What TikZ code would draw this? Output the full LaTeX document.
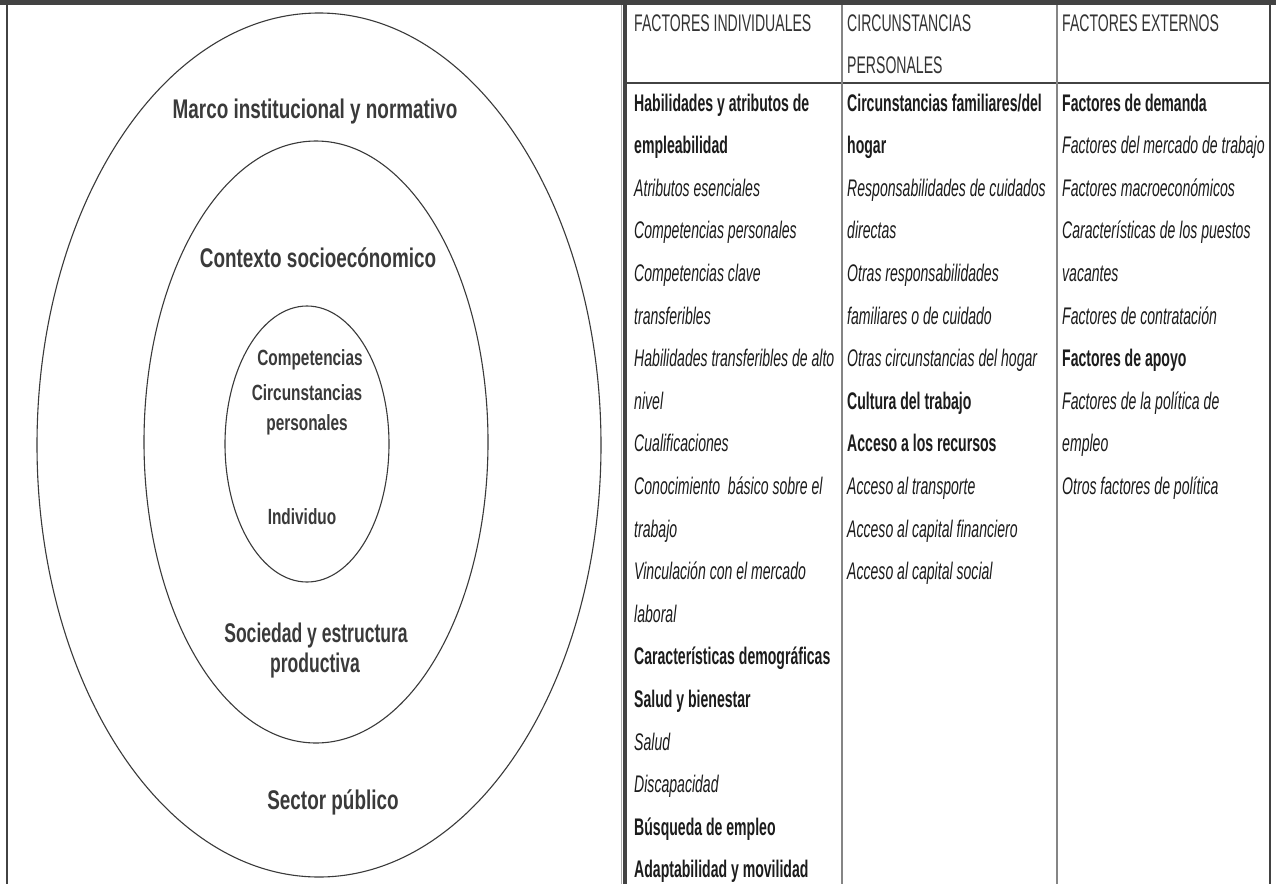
\documentclass[tikz,border=0pt]{standalone}
\usepackage{fontspec}
\setmainfont{Liberation Sans}
\newfontfamily\tabf{Liberation Sans}[FakeStretch=0.586]
\newfontfamily\circf{Liberation Sans}[FakeStretch=0.70]
\newfontfamily\circn{Liberation Sans}[FakeStretch=0.65]
\definecolor{frame}{HTML}{424242}
\definecolor{divline}{HTML}{858585}
\definecolor{txt}{HTML}{1C1C1C}
\definecolor{hdr}{HTML}{333333}
\definecolor{ctxt}{HTML}{3A3A3A}
\definecolor{ring}{HTML}{3A3A3A}
\tikzset{
  body/.style={anchor=base west, inner sep=0pt, text=txt, font=\tabf\fontsize{24}{24}\selectfont},
  bhead/.style={body, font=\tabf\bfseries\fontsize{24}{24}\selectfont},
  isub/.style={body, font=\tabf\itshape\fontsize{24}{24}\selectfont},
  colhead/.style={body, text=hdr},
  circlabel/.style={anchor=base, inner sep=0pt, text=ctxt, align=center, font=\circf\bfseries\fontsize{27}{30}\selectfont},
  narrowlabel/.style={circlabel, font=\circn\bfseries\fontsize{27}{30}\selectfont},
  innerlabel/.style={circlabel, font=\circf\bfseries\fontsize{22}{31}\selectfont},
  ringline/.style={draw=ring, line width=1.1pt},
}
\begin{document}
\begin{tikzpicture}[x=1pt,y=-1pt]
\useasboundingbox (0,0) rectangle (1276,884);
\fill[white] (0,0) rectangle (1276,884);
% frame
\fill[frame] (0,0) rectangle (1276,5);
\draw[frame, line width=2.5pt] (7,5) -- (7,884);
\draw[divline!70, line width=1pt] (621,5) -- (621,884);
\draw[frame, line width=4pt] (625,5) -- (625,884);
\draw[frame, line width=2.5pt] (1270,5) -- (1270,884);
\draw[frame, line width=2.5pt] (625,83) -- (1270,83);
\draw[divline, line width=1.2pt] (842,5) -- (842,884);
\draw[divline, line width=1.2pt] (1057,5) -- (1057,884);
% rings
\draw[ringline] (319,445) ellipse [x radius=282, y radius=432];
\draw[ringline] (316,442) ellipse [x radius=172, y radius=301];
\draw[ringline] (307,444) ellipse [x radius=82, y radius=138];
% ring labels
\node[circlabel] (marco) at (315,118) {Marco institucional y normativo};
\node[circlabel] (contexto) at (318,267) {Contexto socioecónomico};
\node[innerlabel] (comp) at (310,365) {Competencias};
\node[innerlabel] (circ) at (307,400) {Circunstancias};
\node[innerlabel] (pers) at (307,430) {personales};
\node[innerlabel] (indiv) at (302,524) {Individuo};
\node[narrowlabel] (soc) at (316,642) {Sociedad y estructura};
\node[narrowlabel] (prod) at (315,672) {productiva};
\node[circlabel] (sector) at (333,809) {Sector público};
% table headers
\node[colhead] (h1) at (634,31) {FACTORES INDIVIDUALES};
\node[colhead] (h2a) at (847,31) {CIRCUNSTANCIAS};
\node[colhead] (h2b) at (847,73) {PERSONALES};
\node[colhead] (h3) at (1062,31) {FACTORES EXTERNOS};
% column 1
\node[bhead] (a1) at (634,111.0) {Habilidades y atributos de};
\node[bhead] (a2) at (634,153.6) {empleabilidad};
\node[isub] (a3) at (634,196.2) {Atributos esenciales};
\node[isub] (a4) at (634,238.8) {Competencias personales};
\node[isub] (a5) at (634,281.4) {Competencias clave};
\node[isub] (a6) at (634,324.0) {transferibles};
\node[isub] (a7) at (634,366.6) {Habilidades transferibles de alto};
\node[isub] (a8) at (634,409.2) {nivel};
\node[isub] (a9) at (634,451.8) {Cualificaciones};
\node[isub] (a10) at (634,494.4) {Conocimiento\ \ básico sobre el};
\node[isub] (a11) at (634,537.0) {trabajo};
\node[isub] (a12) at (634,579.6) {Vinculación con el mercado};
\node[isub] (a13) at (634,622.2) {laboral};
\node[bhead] (a14) at (634,664.8) {Características demográficas};
\node[bhead] (a15) at (634,707.4) {Salud y bienestar};
\node[isub] (a16) at (634,750.0) {Salud};
\node[isub] (a17) at (634,792.6) {Discapacidad};
\node[bhead] (a18) at (634,835.2) {Búsqueda de empleo};
\node[bhead] (a19) at (634,877.8) {Adaptabilidad y movilidad};
% column 2
\node[bhead] (b1) at (847,111.0) {Circunstancias familiares/del};
\node[bhead] (b2) at (847,153.6) {hogar};
\node[isub] (b3) at (847,196.2) {Responsabilidades de cuidados};
\node[isub] (b4) at (847,238.8) {directas};
\node[isub] (b5) at (847,281.4) {Otras responsabilidades};
\node[isub] (b6) at (847,324.0) {familiares o de cuidado};
\node[isub] (b7) at (847,366.6) {Otras circunstancias del hogar};
\node[bhead] (b8) at (847,409.2) {Cultura del trabajo};
\node[bhead] (b9) at (847,451.8) {Acceso a los recursos};
\node[isub] (b10) at (847,494.4) {Acceso al transporte};
\node[isub] (b11) at (847,537.0) {Acceso al capital financiero};
\node[isub] (b12) at (847,579.6) {Acceso al capital social};
% column 3
\node[bhead] (c1) at (1062,111.0) {Factores de demanda};
\node[isub] (c2) at (1062,153.6) {Factores del mercado de trabajo};
\node[isub] (c3) at (1062,196.2) {Factores macroeconómicos};
\node[isub] (c4) at (1062,238.8) {Características de los puestos};
\node[isub] (c5) at (1062,281.4) {vacantes};
\node[isub] (c6) at (1062,324.0) {Factores de contratación};
\node[bhead] (c7) at (1062,366.6) {Factores de apoyo};
\node[isub] (c8) at (1062,409.2) {Factores de la política de};
\node[isub] (c9) at (1062,451.8) {empleo};
\node[isub] (c10) at (1062,494.4) {Otros factores de política};
\end{tikzpicture}
\end{document}
